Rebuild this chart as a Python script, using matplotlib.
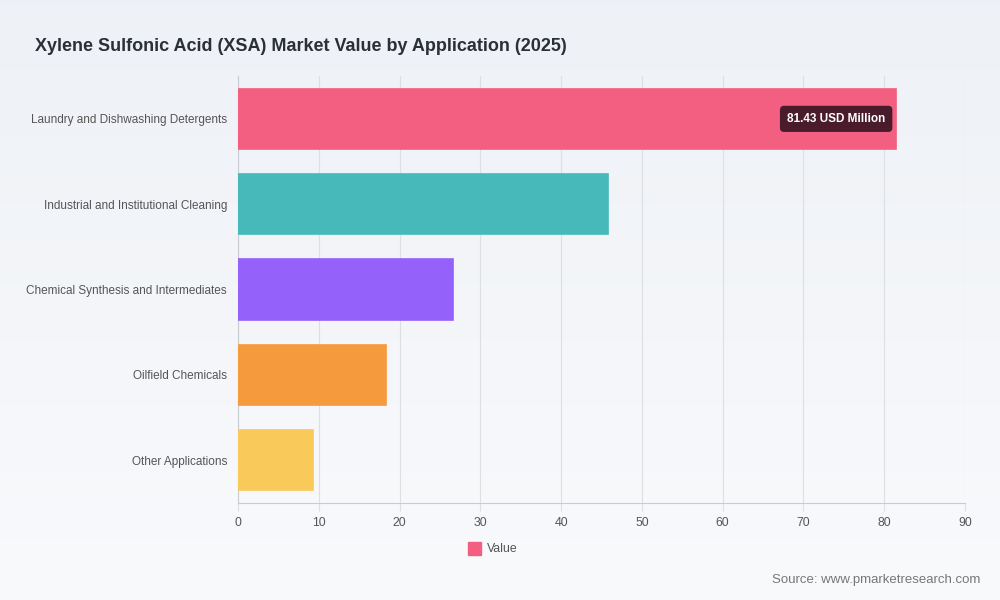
import numpy as np
import matplotlib.pyplot as plt

plt.rcParams['font.family'] = ['Liberation Sans', 'DejaVu Sans']

# data
categories = ['Laundry and Dishwashing Detergents',
              'Industrial and Institutional Cleaning',
              'Chemical Synthesis and Intermediates',
              'Oilfield Chemicals',
              'Other Applications']
values = [81.43, 45.8, 26.6, 18.3, 9.3]
colors = ['#f25f80', '#48b9bb', '#9461fb', '#f69a3e', '#f9c95a']
x_ticks = [0, 10, 20, 30, 40, 50, 60, 70, 80, 90]

fig = plt.figure(figsize=(10, 6), dpi=100)

# background gradient
bg = fig.add_axes([0, 0, 1, 1], zorder=-10)
grad = np.linspace(0, 1, 256).reshape(-1, 1)
top = np.array([0.933, 0.945, 0.965])
bot = np.array([0.975, 0.98, 0.988])
img = top[None, None, :] * (1 - grad[:, :, None]) + bot[None, None, :] * grad[:, :, None]
bg.imshow(img, aspect='auto', extent=[0, 1, 0, 1])
bg.axis('off')

ax = fig.add_axes([0.238, 0.162, 0.727, 0.711])
ax.patch.set_alpha(0)

y = np.arange(len(categories))
ax.barh(y, values, height=0.71, color=colors, edgecolor=colors, linewidth=1.2, zorder=3)
ax.set_yticks(y)
ax.set_yticklabels(categories, fontsize=8.5, color='#555555')
ax.set_ylim(len(categories) - 0.5, -0.5)
ax.set_xlim(0, 90)
ax.set_xticks(x_ticks)
ax.set_xticklabels([str(t) for t in x_ticks], fontsize=8.8, color='#555555')
ax.tick_params(axis='y', length=0, pad=8)
ax.tick_params(axis='x', length=6, color='#dcdfe4', pad=4)
ax.grid(axis='x', color='#dcdfe4', linewidth=0.8, zorder=0)
for s in ['top', 'right']:
    ax.spines[s].set_visible(False)
ax.spines['left'].set_color('#c8cbd0')
ax.spines['bottom'].set_color('#c8cbd0')

# tooltip label on the largest bar
ax.text(values[0] - 1.3, 0, f'{values[0]:.2f} USD Million', ha='right', va='center',
        fontsize=8.5, fontweight='bold', color='white', zorder=5,
        bbox=dict(boxstyle='round,pad=0.6,rounding_size=0.35', fc='#4a1c2b', ec='none'))

fig.text(0.035, 0.923, 'Xylene Sulfonic Acid (XSA) Market Value by Application (2025)',
         fontsize=13, fontweight='bold', color='#2b2f36', va='center')

# legend
fig.patches.append(plt.Rectangle((0.468, 0.075), 0.013, 0.022, transform=fig.transFigure,
                                 color=colors[0]))
fig.text(0.487, 0.085, 'Value', fontsize=8.8, color='#555555', va='center')

fig.text(0.98, 0.028, 'Source: www.pmarketresearch.com', ha='right', fontsize=9.5,
         color='#777777')

fig.savefig('out.png', dpi=100)
